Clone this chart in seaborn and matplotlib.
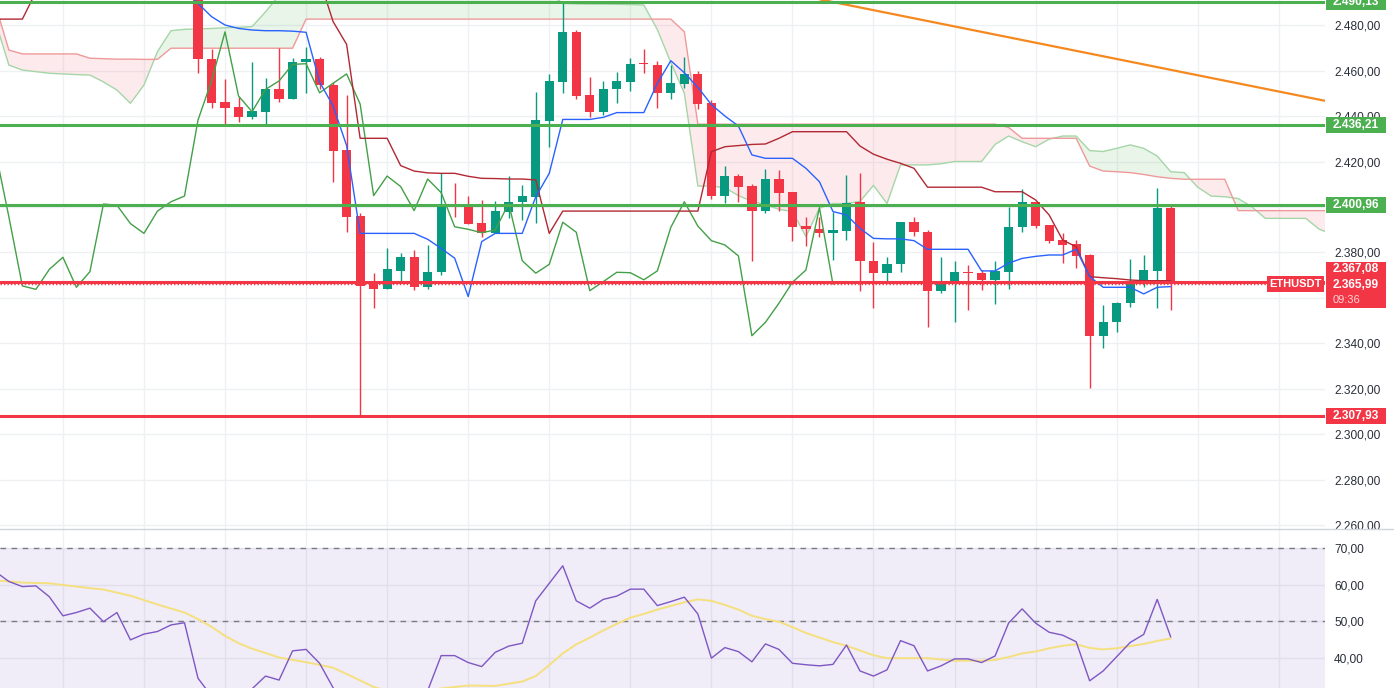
import matplotlib
matplotlib.use("Agg")
import matplotlib.pyplot as plt
import matplotlib.transforms as mtransforms
from matplotlib.patches import Rectangle
from matplotlib.lines import Line2D
import numpy as np
import seaborn as sns

# ---------------- data ----------------
bar_index = list(range(73))
opens = [2500.0, 2464.9, 2446.2, 2443.8, 2439.7, 2441.9, 2451.9, 2447.3, 2463.6, 2464.9,
         2453.6, 2425.0, 2396.0, 2366.7, 2363.8, 2372.0, 2377.9, 2364.7, 2371.6, 2401.3,
         2400.6, 2392.8, 2388.4, 2398.0, 2402.4, 2404.5, 2437.9, 2455.1, 2477.0, 2449.2,
         2441.9, 2451.7, 2455.1, 2463.3, 2462.4, 2450.2, 2454.1, 2458.5, 2445.6, 2405.0,
         2413.6, 2409.2, 2398.4, 2412.3, 2406.5, 2391.6, 2390.3, 2388.7, 2389.6, 2402.0,
         2376.4, 2370.9, 2374.8, 2393.3, 2388.9, 2363.2, 2367.2, 2371.6, 2371.2, 2368.0,
         2371.6, 2391.1, 2402.1, 2392.1, 2385.5, 2383.6, 2378.9, 2343.4, 2349.5, 2357.7,
         2366.3, 2372.0, 2399.7]
highs = [2505.0, 2469.3, 2456.3, 2448.5, 2463.7, 2456.6, 2469.8, 2465.4, 2470.2, 2465.9,
         2455.0, 2449.2, 2397.4, 2370.9, 2381.8, 2379.6, 2381.0, 2383.3, 2414.8, 2410.7,
         2404.8, 2403.1, 2402.6, 2413.6, 2409.7, 2450.7, 2458.5, 2490.2, 2477.8, 2457.0,
         2455.4, 2459.5, 2465.4, 2469.3, 2464.2, 2462.4, 2465.8, 2460.0, 2447.0, 2418.0,
         2414.5, 2410.0, 2416.7, 2416.3, 2406.5, 2395.5, 2395.5, 2397.9, 2414.0, 2414.8,
         2384.7, 2377.9, 2393.3, 2395.5, 2389.9, 2378.1, 2376.4, 2374.5, 2372.3, 2376.3,
         2400.1, 2407.8, 2402.3, 2392.1, 2388.7, 2385.5, 2379.3, 2356.9, 2358.4, 2377.1,
         2378.9, 2408.2, 2400.9]
lows = [2459.0, 2443.4, 2436.0, 2437.5, 2438.5, 2436.0, 2446.3, 2447.3, 2450.0, 2452.0,
        2411.0, 2389.0, 2307.9, 2355.5, 2363.8, 2366.5, 2363.5, 2364.0, 2370.1, 2395.7,
        2392.5, 2386.7, 2388.4, 2395.0, 2394.3, 2393.1, 2426.5, 2450.0, 2447.6, 2439.4,
        2440.4, 2445.8, 2451.1, 2458.8, 2443.4, 2447.3, 2452.2, 2443.0, 2403.7, 2401.6,
        2402.3, 2376.4, 2397.5, 2398.4, 2385.2, 2383.0, 2386.7, 2376.7, 2385.5, 2363.2,
        2355.5, 2367.2, 2371.3, 2387.3, 2347.4, 2362.3, 2349.6, 2354.7, 2363.5, 2357.4,
        2363.8, 2389.2, 2390.9, 2384.3, 2375.3, 2373.0, 2320.3, 2338.2, 2345.2, 2355.9,
        2365.0, 2355.5, 2354.7]
closes = [2464.9, 2445.8, 2443.6, 2439.7, 2442.2, 2451.9, 2447.3, 2463.6, 2464.9, 2453.5,
          2424.7, 2395.7, 2365.3, 2363.8, 2372.6, 2377.9, 2364.7, 2371.6, 2401.3, 2400.8,
          2392.7, 2388.4, 2398.2, 2402.3, 2404.8, 2438.2, 2455.4, 2477.0, 2448.8, 2441.9,
          2451.7, 2455.4, 2462.7, 2463.0, 2450.2, 2454.4, 2458.5, 2445.3, 2405.0, 2413.6,
          2409.0, 2398.4, 2412.3, 2406.3, 2391.3, 2390.2, 2388.7, 2389.9, 2401.6, 2376.4,
          2370.9, 2374.8, 2393.3, 2388.9, 2363.2, 2367.2, 2371.3, 2371.1, 2368.0, 2371.9,
          2391.1, 2402.3, 2391.6, 2385.2, 2383.3, 2378.5, 2343.4, 2349.3, 2357.7, 2366.9,
          2372.3, 2399.7, 2365.99]
chikou_shift = 25

tenkan_idx = list(range(-1, 73))
tenkan = [2496.0, 2489.5, 2483.7, 2480.0, 2478.5, 2477.8, 2477.5, 2477.5, 2477.3, 2476.8,
          2455.0, 2444.4, 2427.0, 2388.4, 2388.4, 2388.4, 2388.4, 2388.4, 2385.8, 2381.8,
          2377.5, 2360.6, 2384.8, 2388.4, 2388.4, 2388.4, 2404.5, 2414.8, 2438.5, 2438.5,
          2438.5, 2439.4, 2441.5, 2441.5, 2441.5, 2454.4, 2464.3, 2459.0, 2452.6, 2445.0,
          2440.0, 2435.6, 2422.9, 2421.4, 2421.4, 2421.4, 2417.0, 2411.1, 2398.0, 2396.5,
          2390.6, 2386.2, 2386.0, 2386.0, 2385.2, 2381.4, 2381.4, 2381.4, 2381.4, 2371.9,
          2371.9, 2375.3, 2377.4, 2378.3, 2378.9, 2378.9, 2381.4, 2369.4, 2364.7, 2364.7,
          2364.7, 2361.8, 2364.7, 2365.0]

kijun_idx = list(range(-15, 73))
kijun = ([2482.6, 2482.6, 2482.6, 2494.5] + [2500.0] * 21 +
         [2481.5, 2471.5, 2430.2, 2430.2, 2430.2, 2418.2, 2415.8, 2415.0, 2414.8, 2414.8,
          2413.5, 2412.6, 2412.5, 2412.3, 2412.3, 2411.9, 2388.4] +
         [2398.2] * 11 +
         [2424.3, 2426.5, 2427.0, 2427.5, 2427.7, 2430.2] +
         [2433.1] * 5 +
         [2426.8, 2423.2, 2421.0, 2419.2, 2417.0] +
         [2408.7] * 5 + [2406.7] * 3 +
         [2403.1, 2396.5, 2385.5, 2382.5, 2369.4, 2368.9, 2368.5, 2367.9, 2367.6, 2367.6, 2367.6])

span_idx = list(range(-15, 85))
span_a = ([2481.7, 2462.4, 2460.2, 2459.5, 2458.8, 2458.5, 2458.2, 2458.0, 2455.0, 2451.4,
           2445.6, 2453.6, 2468.3, 2477.5, 2478.1, 2478.3, 2478.5, 2478.8, 2479.0, 2479.3,
           2485.8, 2493.0] + [2494.0] * 20 +
          [2489.5, 2489.3, 2489.2, 2489.2, 2489.1, 2489.0, 2488.8, 2478.0, 2463.5, 2450.0,
           2409.2, 2409.2, 2408.5, 2405.0, 2402.5, 2401.0, 2399.0, 2398.0, 2387.0, 2399.5,
           2401.5, 2401.5, 2402.5, 2409.5, 2401.5, 2418.5, 2418.5, 2418.5, 2419.0, 2420.0,
           2420.0, 2420.0, 2427.5, 2431.2, 2428.7, 2426.5, 2429.8, 2431.2, 2431.2, 2424.8,
           2424.4, 2425.8, 2427.3, 2425.8, 2422.4, 2415.5, 2415.1, 2408.7, 2404.8, 2404.5,
           2403.7, 2400.1, 2395.0, 2395.0, 2395.0, 2395.0, 2390.2, 2388.0])
span_b = ([2489.0, 2469.0] + [2467.3] * 5 + [2465.4, 2465.2, 2465.0, 2465.0, 2464.9, 2464.9] +
          [2469.8] * 10 + [2482.6] * 28 + [2477.0] + [2436.4] * 23 + [2435.0] +
          [2430.2] * 5 + [2418.0, 2415.8, 2415.5, 2415.1, 2414.3, 2413.3, 2412.6] +
          [2412.2] * 4 + [2398.4] * 8)

green_levels = [2490.13, 2436.21, 2400.96]
red_levels = [2367.08, 2307.93]
last_price = 2365.99
countdown = "09:36"
symbol = "ETHUSDT"

trend_idx = [46, 84]
trend_price = [2491.3, 2446.0]

price_ticks = [2260, 2280, 2300, 2320, 2340, 2360, 2380, 2400, 2420, 2440, 2460, 2480]
hidden_ticks = [2360, 2400]   # covered by the price tags in the reference

rsi_idx = list(range(-15, 73))
rsi = [63.6, 60.9, 59.5, 59.7, 56.7, 51.5, 52.4, 53.6, 49.9, 52.4, 44.9, 46.5, 47.2, 49.0, 49.6,
       34.4, 29.5, 27.5, 29.0, 31.5, 35.0, 33.9, 41.9, 42.3, 38.5,
       31.8, 27.0, 22.0, 20.0, 19.5, 22.0, 23.5, 31.0, 40.6, 40.6,
       38.7, 37.6, 41.5, 43.2, 44.0, 55.6, 60.4, 65.2, 55.6, 53.6,
       56.0, 56.9, 58.8, 58.8, 54.3, 55.4, 56.6, 52.0, 39.9, 42.8,
       41.7, 38.9, 43.8, 42.3, 38.5, 38.1, 37.8, 38.2, 43.5, 36.4,
       35.0, 36.7, 44.7, 43.3, 36.4, 37.8, 39.7, 39.7, 38.7, 40.5,
       49.5, 53.4, 49.5, 47.0, 46.2, 44.4, 33.7, 36.4, 40.3, 44.2,
       46.4, 56.0, 45.7]
rsi_ma_idx = [-15, -13, -11, -9, -7, -5, -3, -1, 0, 1, 2, 3, 4, 6, 8, 10, 12, 13, 14, 16, 18,
              20, 22, 24, 25, 26, 27, 28, 29, 30, 31, 32, 33, 34, 36, 37, 38, 39, 40, 41, 42,
              43, 44, 45, 47, 48, 49, 50, 51, 54, 56, 58, 59, 60, 61, 62, 63, 64, 65, 66, 67,
              68, 69, 70, 71, 72]
rsi_ma = [61.2, 60.6, 60.4, 59.5, 58.7, 57.0, 54.6, 52.4, 50.6, 48.5, 46.0, 44.0, 42.5, 40.1,
          38.8, 37.3, 33.8, 32.0, 31.0, 30.5, 31.6, 32.4, 32.3, 33.5, 35.0, 38.0, 41.2, 43.7,
          45.5, 47.5, 49.3, 51.0, 52.0, 53.2, 55.2, 56.0, 55.6, 54.5, 53.2, 51.5, 50.6, 49.9,
          48.4, 46.8, 44.3, 43.3, 42.0, 40.7, 39.9, 39.9, 39.2, 39.2, 39.4, 40.2, 41.2, 41.7,
          42.6, 43.3, 43.7, 42.7, 42.3, 42.6, 43.2, 43.8, 44.6, 45.3]
rsi_ticks = [40, 50, 60, 70]
rsi_bands = [30, 70]
rsi_dashed = [70, 50]

# ---------------- style ----------------
UP = "#089981"
DOWN = "#f23645"
LGREEN = "#4caf50"
LRED = "#f23645"
GRID = "#eef0f4"
TXT = "#2a2e39"

sns.set_theme(style="white")
plt.rcParams['font.family'] = ['Liberation Sans', 'DejaVu Sans']


def fmt(v):
    s = f"{v:,.2f}"
    return s.replace(",", "X").replace(".", ",").replace("X", ".")


W, H = 1394, 688
fig = plt.figure(figsize=(W / 100, H / 100), dpi=100)
fig.patch.set_facecolor("white")
ax = fig.add_axes([0, 158 / H, 1325 / W, 530 / H])
axr = fig.add_axes([0, 0, 1325 / W, 158 / H])
axr.set_zorder(2)

XMIN, XMAX = -14.656, 83.42
grid_x = list(range(-10, 84, 6))

for a in (ax, axr):
    a.set_xlim(XMIN, XMAX)
    a.set_facecolor("white")
    for s in a.spines.values():
        s.set_visible(False)
    a.set_xticks(grid_x)
    a.tick_params(axis="x", length=0, labelbottom=False)
    a.grid(True, color=GRID, lw=1)
    a.set_axisbelow(True)
    a.yaxis.tick_right()
    a.tick_params(axis="y", length=0, pad=6.5, labelsize=8.6, labelcolor=TXT)
    a.set_xlabel("")
    a.set_ylabel("")

# ---------------- main panel ----------------
ax.set_ylim(2258.0, 2491.0)
ax.set_yticks(price_ticks)
ax.set_yticklabels(["" if t in hidden_ticks else fmt(t) for t in price_ticks])

si = np.array(span_idx)
sa = np.array(span_a)
sb = np.array(span_b)
ax.fill_between(si, sa, sb, where=sa >= sb, interpolate=True, color=LGREEN, alpha=0.12, lw=0, zorder=1)
ax.fill_between(si, sa, sb, where=sa < sb, interpolate=True, color=LRED, alpha=0.10, lw=0, zorder=1)
sns.lineplot(x=span_idx, y=span_a, ax=ax, color="#a5d6a7", linewidth=1.0, estimator=None, sort=False, legend=False, zorder=2)
sns.lineplot(x=span_idx, y=span_b, ax=ax, color="#ef9a9a", linewidth=1.0, estimator=None, sort=False, legend=False, zorder=2)

# candles
o = np.array(opens)
c = np.array(closes)
col = np.where(c >= o, UP, DOWN)
ax.vlines(bar_index, lows, highs, colors=col, lw=1.0, zorder=3)
ax.bar(bar_index, np.maximum(np.abs(c - o), 0.45), bottom=np.minimum(o, c), width=0.68,
       color=col, linewidth=0, zorder=3)

# ichimoku lines
chikou_x = [b - chikou_shift for b in bar_index]
sns.lineplot(x=chikou_x, y=closes, ax=ax, color="#43a047", linewidth=1.0, estimator=None, sort=False, legend=False, zorder=4)
sns.lineplot(x=kijun_idx, y=kijun, ax=ax, color="#b22833", linewidth=1.0, estimator=None, sort=False, legend=False, zorder=4)
sns.lineplot(x=tenkan_idx, y=tenkan, ax=ax, color="#2962ff", linewidth=1.0, estimator=None, sort=False, legend=False, zorder=4)

# trend line
sns.lineplot(x=trend_idx, y=trend_price, ax=ax, color="#f5891f", linewidth=1.6, estimator=None, sort=False, legend=False, zorder=5)

# horizontal levels
for lv in green_levels:
    ax.axhline(lv, color=LGREEN, lw=2.2, zorder=5)
for lv in red_levels:
    ax.axhline(lv, color=LRED, lw=2.2, zorder=5)
ax.axhline(last_price, color=LRED, lw=1.0, ls=(0, (1, 1.5)), zorder=5)

# price labels on the scale
trans = mtransforms.blended_transform_factory(ax.transAxes, ax.transData)
px = 1 / 2.275          # price units per pixel
bx0, bw = 1.0008, 60 / 1325


def price_box(val, color, text):
    ax.add_patch(Rectangle((bx0, val - 8 * px), bw, 16 * px, transform=trans, facecolor=color,
                           edgecolor="none", clip_on=False, zorder=10))
    ax.text(bx0 + bw / 2, val, text, transform=trans, ha="center", va="center", color="white",
            fontsize=8.6, fontweight="bold", clip_on=False, zorder=11)


for lv in green_levels:
    price_box(lv, LGREEN, fmt(lv))
price_box(red_levels[1], LRED, fmt(red_levels[1]))

# combined last-price box
top_v = red_levels[0] + 20.2 * px
ax.add_patch(Rectangle((bx0, top_v - 46.6 * px), bw, 46.6 * px, transform=trans, facecolor=LRED,
                       edgecolor="none", clip_on=False, zorder=10))
ax.text(bx0 + bw / 2, top_v - 7.5 * px, fmt(red_levels[0]), transform=trans, ha="center", va="center",
        color="white", fontsize=8.6, fontweight="bold", clip_on=False, zorder=11)
ax.text(bx0 + bw / 2, top_v - 23.5 * px, fmt(last_price), transform=trans, ha="center", va="center",
        color="white", fontsize=8.6, fontweight="bold", clip_on=False, zorder=11)
ax.text(bx0 + 7 / 1325, top_v - 38 * px, countdown, transform=trans, ha="left", va="center",
        color="#ffd2d6", fontsize=8.0, clip_on=False, zorder=11)

# symbol tag
ax.add_patch(Rectangle((1 - 58 / 1325, last_price - 7.5 * px), 57 / 1325, 16 * px, transform=trans,
                       facecolor=LRED, edgecolor="none", clip_on=False, zorder=10))
ax.text(1 - 29.5 / 1325, last_price + 0.4 * px, symbol, transform=trans, ha="center", va="center",
        color="white", fontsize=8.0, fontweight="bold", clip_on=False, zorder=11)

# ---------------- RSI panel ----------------
axr.set_ylim(31.73, 75.0)
axr.set_yticks(rsi_ticks)
axr.set_yticklabels([fmt(t) for t in rsi_ticks])
axr.axhspan(rsi_bands[0], rsi_bands[1], color="#7e57c2", alpha=0.11, lw=0, zorder=0.6)
for lv in rsi_dashed:
    axr.axhline(lv, color="#787b86", lw=1.0, ls=(0, (4, 4)), zorder=1)
sns.lineplot(x=rsi_ma_idx, y=rsi_ma, ax=axr, color="#f5e07e", linewidth=1.4, estimator=None, sort=False, legend=False, zorder=3)
sns.lineplot(x=rsi_idx, y=rsi, ax=axr, color="#7e57c2", linewidth=1.0, estimator=None, sort=False, legend=False, zorder=4)

# white cover for the scale area of the lower panel + separator
fig.add_artist(Rectangle((1325 / W, 0), (W - 1325) / W, 159 / H, transform=fig.transFigure,
                         facecolor="white", edgecolor="none", zorder=1))
fig.add_artist(Line2D([0, 1], [1 - 529 / H] * 2, transform=fig.transFigure, color="#d1d4dc", lw=1.0, zorder=3))

fig.savefig("out.png", dpi=100, facecolor="white")
